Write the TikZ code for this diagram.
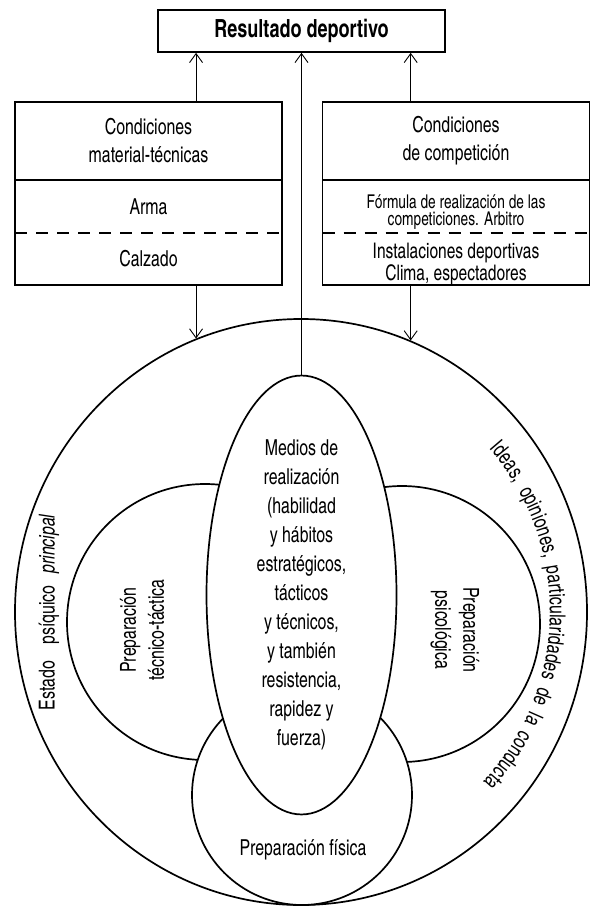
\documentclass[tikz,border=0pt]{standalone}
\usepackage{fontspec}
\setmainfont{texgyreheroscn}[Extension=.otf, UprightFont=*-regular, BoldFont=*-bold,
  ItalicFont=*-italic, BoldItalicFont=*-bolditalic, FakeStretch=0.88]
\usepackage{tikz}
\usetikzlibrary{positioning, arrows.meta, shapes.geometric, decorations.text}
\newcommand{\cellfont}{\fontsize{22}{28}\selectfont}
\newcommand{\smallcell}{\fontsize{19}{17}\selectfont}
\newcommand{\curvefont}{\fontsize{22}{22}\selectfont}

\begin{document}
\begin{tikzpicture}[x=1pt, y=1pt,
  cell/.style={inner sep=0pt, outer sep=0pt, minimum width=267pt,
    align=center, font=\cellfont},
  frame/.style={line width=1.7pt},
  sep/.style={line width=1.7pt},
  dashsep/.style={line width=1.7pt, dash pattern=on 12pt off 9pt},
  ring/.style={line width=1.7pt},
  arrow/.style={-{Straight Barb[length=9pt, width=13pt]}, line width=0.9pt}
]
\useasboundingbox (0,0) rectangle (595,-912);

% result
\node[draw, frame, inner sep=0pt, minimum width=287pt, minimum height=42pt,
  font=\bfseries\fontsize{25}{26}\selectfont] (result) at (301.5,-31)
  {Resultado deportivo};

% left box
\node[cell, minimum height=78pt] (lhead) at (148.5,-141)
  {Condiciones\\material-técnicas};
\node[cell, minimum height=53pt, below=0pt of lhead] (larma) {Arma};
\node[cell, minimum height=52pt, below=0pt of larma] (lcalz) {Calzado};
\draw[frame] (lhead.north west) rectangle (lcalz.south east);
\draw[sep] (lhead.south west) -- (lhead.south east);
\draw[dashsep] (larma.south west) -- (larma.south east);

% right box
\node[cell, minimum height=78pt] (rhead) at (456,-141)
  {Condiciones\\de competición};
\node[cell, minimum height=53pt, below=0pt of rhead, font=\smallcell,
  text height=41pt, text depth=4pt] (rform)
  {Fórmula de realización de las\\competiciones. Arbitro};
\node[cell, minimum height=52pt, below=0pt of rform,
  font=\fontsize{21.5}{22}\selectfont, text height=46pt, text depth=4pt] (rinst)
  {Instalaciones deportivas\\Clima, espectadores};
\draw[frame] (rhead.north west) rectangle (rinst.south east);
\draw[sep] (rhead.south west) -- (rhead.south east);
\draw[dashsep] (rform.south west) -- (rform.south east);

% circles
\node[ellipse, draw, ring, inner sep=0pt, minimum width=572pt,
  minimum height=586pt] (estado) at (301,-612) {};
\filldraw[ring, fill=white] (205,-622) circle[radius=138];
\filldraw[ring, fill=white] (402,-624) circle[radius=138];
\filldraw[ring, fill=white] (302,-795) circle[radius=110];
\node[ellipse, draw, ring, fill=white, inner sep=0pt, minimum width=190pt,
  minimum height=416pt, align=center, font=\fontsize{22}{29}\selectfont]
  (medios) at (301.5,-595)
  {Medios de\\realización\\(habilidad\\y hábitos\\estratégicos,\\tácticos\\
   y técnicos,\\y también\\resistencia,\\rapidez y\\fuerza)};

% labels
\node[rotate=90, align=center, font=\cellfont] (tecnica) at (142,-630)
  {Preparación\\técnico-táctica};
\node[rotate=-90, align=center, font=\cellfont] (psico) at (455,-630)
  {Preparación\\psicológica};
\node[anchor=base, font=\cellfont] (fisica) at (303,-855) {Preparación física};
\node[rotate=90, font=\cellfont] (psiquico) at (49,-612)
  {Estado\hspace{16pt}psíquico\hspace{12pt}\textit{principal}};
\path[decorate, decoration={text along path,
    text={|\curvefont|Ideas, opiniones, particularidades de la conducta},
    text align={fit to path stretching spaces}}]
  ([shift={(41:249)}]estado.center) arc[start angle=41, end angle=-43, radius=249];

% arrows
\draw[arrow] (lhead.north -| estado.111.7) -- (result.south -| estado.111.7);
\draw[arrow] (rhead.north -| estado.68.1) -- (result.south -| estado.68.1);
\draw[arrow] (medios.north) -- (result.south -| medios.north);
\draw[arrow] (lcalz.south -| estado.111.7) -- (estado.111.7);
\draw[arrow] (rinst.south -| estado.68.1) -- (estado.68.1);

\end{tikzpicture}
\end{document}
